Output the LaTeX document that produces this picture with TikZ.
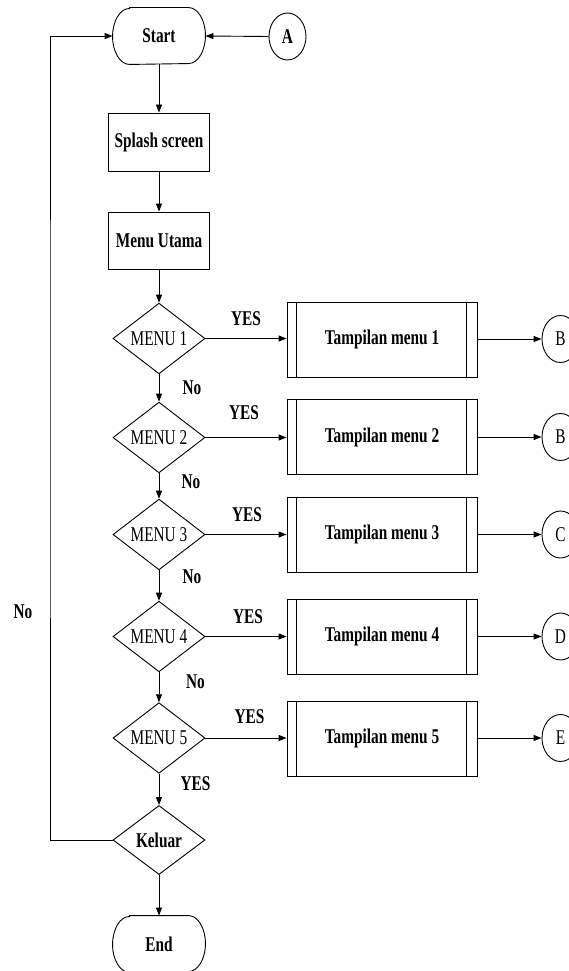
\documentclass[tikz,border=0pt]{standalone}
\usepackage{fontspec}
\setmainfont{Liberation Serif}[FakeStretch=0.73]
\usetikzlibrary{arrows.meta,shapes.geometric}
\begin{document}
\begin{tikzpicture}[x=1pt,y=-1pt,
  every node/.style={font=\fontsize{21}{23}\selectfont},
  line width=0.9pt,
  arr/.style={-{Triangle[length=8pt,width=6pt]}},
  termbox/.style={minimum width=92pt,minimum height=56pt,inner sep=0pt,font=\fontsize{21}{23}\selectfont\bfseries},
  procbox/.style={draw,minimum width=101pt,minimum height=58pt,inner sep=0pt,font=\fontsize{21}{23}\selectfont\bfseries},
  decbox/.style={draw,diamond,minimum width=92pt,minimum height=69pt,inner sep=0pt},
  subbox/.style={draw,minimum width=190pt,minimum height=75pt,inner sep=0pt,font=\fontsize{21}{23}\selectfont\bfseries},
  conn/.style={draw,ellipse,minimum width=37pt,minimum height=47pt,inner sep=0pt},
  lbl/.style={inner sep=0pt,font=\fontsize{21}{23}\selectfont\bfseries}]
\useasboundingbox (0,0) rectangle (569,971);
\clip (0,0) rectangle (569,971);

% terminators
\node[termbox] (start) at (159,36) {Start};
\node[termbox] (end) at (159,944) {End};
\foreach \n in {start,end}{
  \draw ([xshift=17pt]\n.north west) -- ([xshift=-17pt]\n.north east)
    arc[start angle=90,end angle=-90,x radius=17pt,y radius=28pt]
    -- ([xshift=17pt]\n.south west)
    arc[start angle=270,end angle=90,x radius=17pt,y radius=28pt] -- cycle;
}

\node[conn,font=\fontsize{21}{23}\selectfont\bfseries] (A) at (287.5,36.5) {A};

\node[procbox] (splash) at (159,142) {Splash screen};
\node[procbox,minimum height=57pt] (utama) at (159,240.5) {Menu Utama};

\node[decbox] (m1) at (159,338.5) {MENU 1};
\node[decbox] (m2) at (159,437.5) {MENU 2};
\node[decbox] (m3) at (159,534.5) {MENU 3};
\node[decbox] (m4) at (159,636.5) {MENU 4};
\node[decbox] (m5) at (159,738) {MENU 5};
\node[decbox,font=\fontsize{21}{23}\selectfont\bfseries] (kel) at (159,840) {Keluar};

\node[subbox] (t1) at (382,339.5) {Tampilan menu 1};
\node[subbox] (t2) at (382,437) {Tampilan menu 2};
\node[subbox] (t3) at (382,534.5) {Tampilan menu 3};
\node[subbox] (t4) at (382,636.5) {Tampilan menu 4};
\node[subbox] (t5) at (382,738.5) {Tampilan menu 5};
\foreach \n in {t1,t2,t3,t4,t5}{
  \draw ([xshift=10pt]\n.north west) -- ([xshift=10pt]\n.south west);
  \draw ([xshift=-11pt]\n.north east) -- ([xshift=-11pt]\n.south east);
}

\node[conn] (c1) at (560.5,339) {B};
\node[conn] (c2) at (560.5,437) {B};
\node[conn] (c3) at (560.5,534.5) {C};
\node[conn] (c4) at (560.5,636.5) {D};
\node[conn] (c5) at (560.5,738) {E};

% main column
\draw[arr] (A.west) -- (start.east);
\draw[arr] (start.south) -- (splash.north);
\draw[arr] (splash.south) -- (utama.north);
\draw[arr] (utama.south) -- (m1.north);
\draw[arr] (m1.south) -- (m2.north);
\draw[arr] (m2.south) -- (m3.north);
\draw[arr] (m3.south) -- (m4.north);
\draw[arr] (m4.south) -- (m5.north);
\draw[arr] (m5.south) -- (kel.north);
\draw[arr] (kel.south) -- (end.north);

% yes branches
\draw[arr] (m1.east) -- (t1.west |- m1.east);
\draw[arr] (m2.east) -- (t2.west |- m2.east);
\draw[arr] (m3.east) -- (t3.west |- m3.east);
\draw[arr] (m4.east) -- (t4.west |- m4.east);
\draw[arr] (m5.east) -- (t5.west |- m5.east);
\draw[arr] (t1.east |- c1.west) -- (c1.west);
\draw[arr] (t2.east |- c2.west) -- (c2.west);
\draw[arr] (t3.east |- c3.west) -- (c3.west);
\draw[arr] (t4.east |- c4.west) -- (c4.west);
\draw[arr] (t5.east |- c5.west) -- (c5.west);

% loop back
\coordinate (lx) at (50,400);
\draw[arr] (kel.west) -| (lx) |- (start.west);

% labels
\node[lbl] (y1) at (246,319) {YES};
\node[lbl] (y2) at (244,413) {YES};
\node[lbl] (y3) at (247,515) {YES};
\node[lbl] (y4) at (248,617) {YES};
\node[lbl] (y5) at (249.5,717) {YES};
\node[lbl] (y6) at (195.5,784) {YES};
\node[lbl] (n1) at (192,388) {No};
\node[lbl] (n2) at (191,482) {No};
\node[lbl] (n3) at (192,577) {No};
\node[lbl] (n4) at (195.5,682) {No};
\node[lbl] (n5) at (23,612) {No};
\end{tikzpicture}
\end{document}
